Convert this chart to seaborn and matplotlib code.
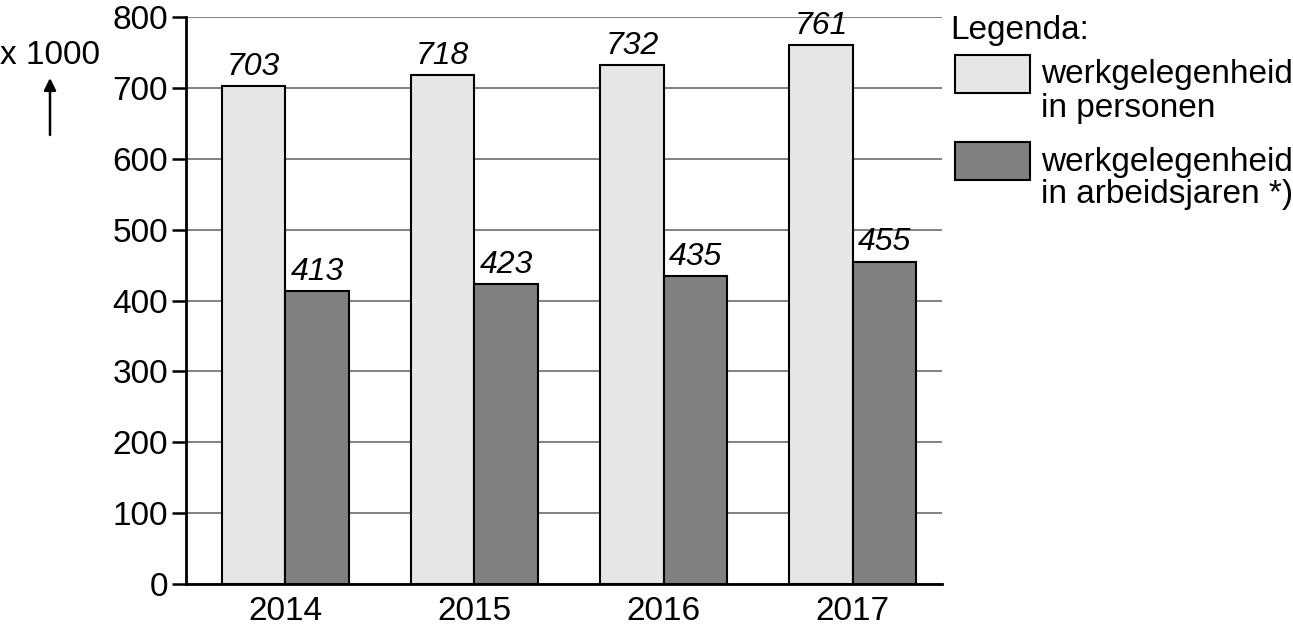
import matplotlib
matplotlib.use("Agg")
import matplotlib.pyplot as plt
from matplotlib.patches import Rectangle, FancyArrowPatch
import seaborn as sns
import pandas as pd

years = ["2014", "2015", "2016", "2017"]
personen = [703, 718, 732, 761]
arbeidsjaren = [413, 423, 435, 455]
series_labels = ["werkgelegenheid\nin personen", "werkgelegenheid\nin arbeidsjaren *)"]
colors = ["#e6e6e6", "#808080"]
yticks = [0, 100, 200, 300, 400, 500, 600, 700, 800]

df = pd.DataFrame({
    "jaar": years * 2,
    "waarde": personen + arbeidsjaren,
    "reeks": [series_labels[0]] * 4 + [series_labels[1]] * 4,
})

sns.set_theme(style="white")
plt.rcParams["font.family"] = ["Liberation Sans", "DejaVu Sans"]
plt.rcParams["text.color"] = "black"
plt.rcParams["xtick.color"] = "black"
plt.rcParams["ytick.color"] = "black"

W, H = 1293, 632
fig = plt.figure(figsize=(W / 100, H / 100), dpi=100)
ax = fig.add_axes([0.1439, 0.076, 0.5846, 0.897])

sns.barplot(data=df, x="jaar", y="waarde", hue="reeks", order=years,
            hue_order=series_labels, palette=colors,
            width=0.67, edgecolor="black", linewidth=1.5, saturation=1,
            ax=ax, zorder=3, legend=False)

for cont in ax.containers:
    ax.bar_label(cont, fmt="%d", padding=3, fontsize=23, fontstyle="italic",
                 color="black")

ax.set_ylim(0, 800)
ax.set_xlim(-0.525, 3.472)
ax.set_yticks(yticks)
ax.set_yticklabels([str(v) for v in yticks], fontsize=24)
ax.tick_params(axis="y", length=10, width=1.8, color="black", pad=3, left=True)
ax.tick_params(axis="x", length=0, labelsize=24, pad=9)
ax.yaxis.grid(True, color="#777777", linewidth=1.3, zorder=0)
ax.set_axisbelow(True)
for s in ["top", "right"]:
    ax.spines[s].set_visible(False)
for s in ["left", "bottom"]:
    ax.spines[s].set_color("black")
    ax.spines[s].set_linewidth(2)
ax.set_xlabel("")
ax.set_ylabel("")

# Legend drawn manually (patch aligned with first text line, as in reference)
def fx(px):
    return px / W

def fy(py):
    return 1 - py / H

fig.text(fx(950), fy(30), "Legenda:", fontsize=24, ha="left", va="center")
patch_tops = [55, 142]
for i, (lab, col) in enumerate(zip(series_labels, colors)):
    top = patch_tops[i]
    fig.add_artist(Rectangle((fx(955), fy(top + 38)), fx(75), 38 / H,
                             transform=fig.transFigure, facecolor=col,
                             edgecolor="black", linewidth=1.5))
    lines = lab.split("\n")
    for j, line in enumerate(lines):
        fig.text(fx(1041), fy(top + 20 + 33 * j), line, fontsize=24,
                 ha="left", va="center")

fig.text(0.0, fy(55), "x 1000", fontsize=24, ha="left", va="center")
fig.add_artist(FancyArrowPatch(
    (fx(50), fy(135)), (fx(50), fy(78)), transform=fig.transFigure,
    arrowstyle="-|>", mutation_scale=18, color="black", linewidth=1.8,
    shrinkA=0, shrinkB=0))

fig.savefig("out.png", dpi=100)
